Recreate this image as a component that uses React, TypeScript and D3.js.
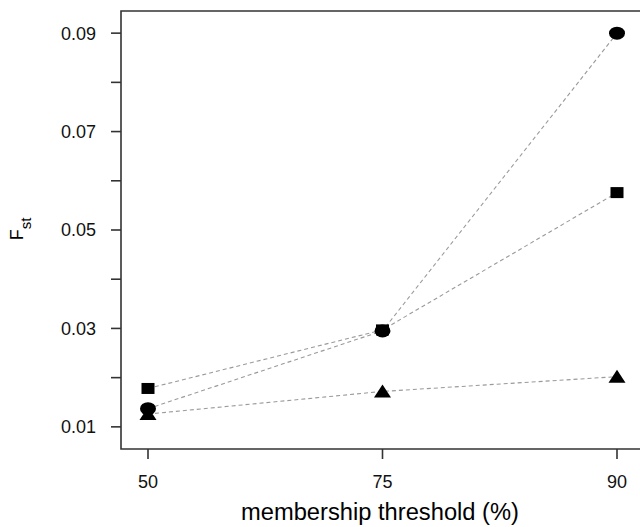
import React, { useEffect, useRef } from "react";
import * as d3 from "d3";

// membership threshold categories (%)
const thresholds = ["50", "75", "90"];
// Fst values per marker series
const circleValues = [0.0137, 0.0295, 0.09];
const squareValues = [0.0178, 0.0297, 0.0576];
const triangleValues = [0.0126, 0.0172, 0.0202];
const yTicks = [0.01, 0.02, 0.03, 0.04, 0.05, 0.06, 0.07, 0.08, 0.09];
const yLabelled = [0.01, 0.03, 0.05, 0.07, 0.09];

export default function App() {
  const svgRef = useRef<SVGSVGElement>(null);

  useEffect(() => {
    const width = 640;
    const height = 527;
    const left = 121;
    const top = 11;
    const bottom = 449;
    const right = 640;
    const font = "'Liberation Sans', Arial, sans-serif";

    const svg = d3.select(svgRef.current);
    svg.selectAll("*").remove();
    svg.attr("width", width).attr("height", height);

    svg.append("rect").attr("width", width).attr("height", height).attr("fill", "#fff");

    const x = d3.scalePoint<string>().domain(thresholds).range([148, 617]);
    const y = d3.scaleLinear().domain([0.0055, 0.0945]).range([bottom, top]);

    // frame (right side cut off)
    const frame = "#333";
    svg.append("path")
      .attr("d", `M${right},${top}H${left}V${bottom}H${right}`)
      .attr("fill", "none")
      .attr("stroke", frame)
      .attr("stroke-width", 1.6);

    // y ticks
    const yAxis = svg.append("g");
    yTicks.forEach((t) => {
      yAxis.append("line")
        .attr("x1", left - 10)
        .attr("x2", left)
        .attr("y1", y(t))
        .attr("y2", y(t))
        .attr("stroke", frame)
        .attr("stroke-width", 1.6);
    });
    yLabelled.forEach((t) => {
      yAxis.append("text")
        .attr("x", 96)
        .attr("y", y(t))
        .attr("dy", "0.36em")
        .attr("text-anchor", "end")
        .style("font-family", font)
        .style("font-size", "18px")
        .attr("fill", "#111")
        .text(d3.format(".2f")(t));
    });

    // x ticks
    const xAxis = svg.append("g");
    thresholds.forEach((t) => {
      xAxis.append("line")
        .attr("x1", x(t)!)
        .attr("x2", x(t)!)
        .attr("y1", bottom)
        .attr("y2", bottom + 10)
        .attr("stroke", frame)
        .attr("stroke-width", 1.6);
      xAxis.append("text")
        .attr("x", x(t)!)
        .attr("y", 488)
        .attr("text-anchor", "middle")
        .style("font-family", font)
        .style("font-size", "18px")
        .attr("fill", "#111")
        .text(t);
    });

    // axis titles
    svg.append("text")
      .attr("x", 380)
      .attr("y", 520)
      .attr("text-anchor", "middle")
      .attr("textLength", 278)
      .attr("lengthAdjust", "spacingAndGlyphs")
      .style("font-family", font)
      .style("font-size", "23px")
      .attr("fill", "#000")
      .text("membership threshold (%)");

    const yTitle = svg.append("g")
      .attr("transform", "translate(23,229) rotate(-90)")
      .append("text")
      .attr("text-anchor", "middle")
      .style("font-family", font)
      .attr("fill", "#000");
    yTitle.append("tspan").style("font-size", "18px").text("F");
    yTitle.append("tspan").style("font-size", "15px").attr("dy", 8).text("st");

    // dashed connecting lines
    const line = d3.line<number>()
      .x((_, i) => x(thresholds[i])!)
      .y((d) => y(d));

    [triangleValues, squareValues, circleValues].forEach((vals) => {
      svg.append("path")
        .datum(vals)
        .attr("fill", "none")
        .attr("stroke", "#9a9a9a")
        .attr("stroke-width", 1.1)
        .attr("stroke-dasharray", "4,3")
        .attr("d", line);
    });

    // markers
    svg.append("g").selectAll("path")
      .data(triangleValues)
      .join("path")
      .attr("d", (d, i) => {
        const cx = x(thresholds[i])!;
        const cy = y(d);
        return `M${cx - 8.5},${cy + 6}L${cx + 8.5},${cy + 6}L${cx},${cy - 7}Z`;
      })
      .attr("fill", "#000");

    svg.append("g").selectAll("rect")
      .data(squareValues)
      .join("rect")
      .attr("x", (_, i) => x(thresholds[i])! - 6.5)
      .attr("y", (d) => y(d) - 5.5)
      .attr("width", 13)
      .attr("height", 11)
      .attr("fill", "#000");

    svg.append("g").selectAll("ellipse")
      .data(circleValues)
      .join("ellipse")
      .attr("cx", (_, i) => x(thresholds[i])!)
      .attr("cy", (d) => y(d))
      .attr("rx", 8)
      .attr("ry", 6.5)
      .attr("fill", "#000");
  }, []);

  return <svg ref={svgRef} style={{ position: "absolute", left: 0, top: 0 }}></svg>;
}
